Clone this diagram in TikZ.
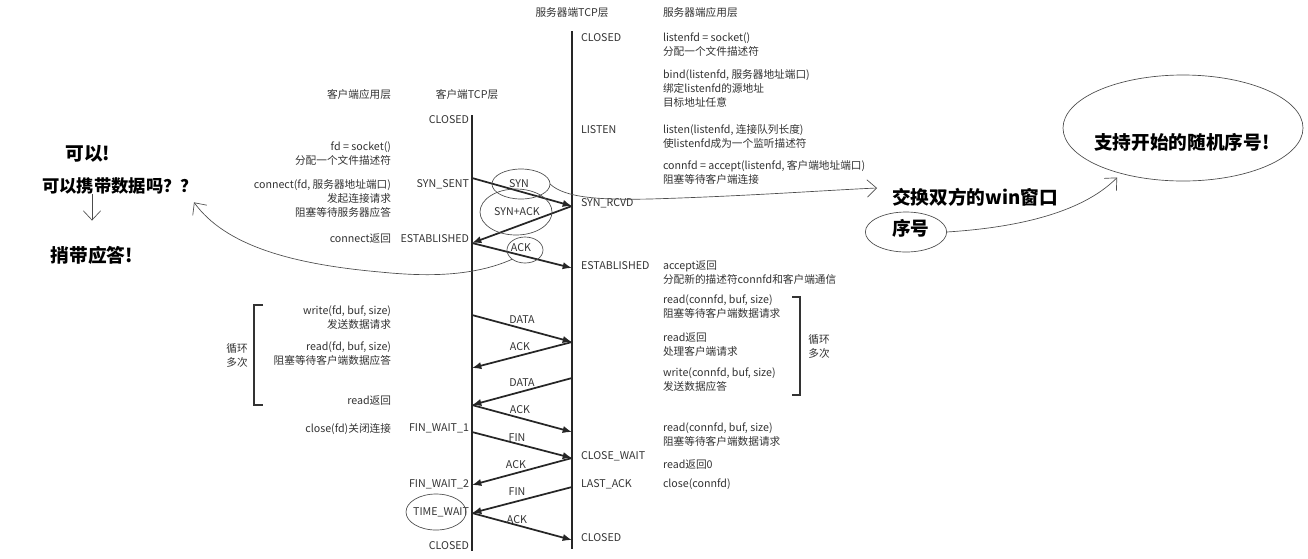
\documentclass[tikz,border=0pt]{standalone}
\usepackage{fontspec}
\setmainfont{Noto Sans CJK SC}
\usetikzlibrary{arrows.meta,shapes.geometric}
\definecolor{ink}{gray}{0.2}
\definecolor{pen}{gray}{0.3}
\begin{document}
\begin{tikzpicture}[x=0.75pt,y=-0.75pt,
  every node/.style={inner sep=0pt, outer sep=0pt, text=ink},
  sm/.style={font=\fontsize{8}{10.5}\selectfont},
  bl/.style={font=\fontsize{14}{17}\selectfont\bfseries, text=black},
  stl/.style={sm, anchor=west},
  str/.style={sm, anchor=east},
  appl/.style={sm, anchor=west, align=left},
  appr/.style={sm, anchor=east, align=right},
  tl/.style={line width=1.5pt, draw=black!85},
  msg/.style={line width=1.3pt, draw=black!85, -{Latex[length=7pt,width=5.5pt]}},
  brk/.style={line width=1pt, draw=black!80},
  hand/.style={line width=0.5pt, draw=pen},
  barb/.style={-{Straight Barb[length=7pt,width=13pt]}},
  ring/.style={draw=pen, line width=0.5pt, ellipse, inner sep=0pt}]
\useasboundingbox (0,0) rectangle (1308,558);
\fill[white] (0,0) rectangle (1308,558);

% headers
\node[sm] (hsT) at (572,12) {服务器端TCP层};
\node[sm,anchor=west] (hsA) at (663,12) {服务器端应用层};
\node[sm,anchor=east] (hcA) at (391,94) {客户端应用层};
\node[sm] (hcT) at (467,94) {客户端TCP层};

% timelines
\coordinate (cTop) at (472,115); \coordinate (cBot) at (472,551);
\coordinate (sTop) at (572,31);  \coordinate (sBot) at (572,549);
\draw[tl] (cTop) -- (cBot);
\draw[tl] (sTop) -- (sBot);

% client states
\node[str] (cs1) at (469,120) {CLOSED};
\node[str] (cs2) at (469,184) {SYN\_SENT};
\node[str] (cs3) at (469,239) {ESTABLISHED};
\node[str] (cs4) at (469,428) {FIN\_WAIT\_1};
\node[str] (cs5) at (469,484) {FIN\_WAIT\_2};
\node[str] (cs6) at (469,512) {TIME\_WAIT};
\node[str] (cs7) at (469,546) {CLOSED};

% server states
\node[stl] (ss1) at (581,38) {CLOSED};
\node[stl] (ss2) at (581,130) {LISTEN};
\node[stl] (ss3) at (581,203) {SYN\_RCVD};
\node[stl] (ss4) at (581,266) {ESTABLISHED};
\node[stl] (ss5) at (581,456) {CLOSE\_WAIT};
\node[stl] (ss6) at (581,484) {LAST\_ACK};
\node[stl] (ss7) at (581,538) {CLOSED};

% server application
\node[appl] (a1) at (663,45) {listenfd = socket()\\分配一个文件描述符};
\node[appl] (a2) at (663,88) {bind(listenfd, 服务器地址端口)\\绑定listenfd的源地址\\目标地址任意};
\node[appl] (a3) at (663,136) {listen(listenfd, 连接队列长度)\\使listenfd成为一个监听描述符};
\node[appl] (a4) at (663,172) {connfd = accept(listenfd, 客户端地址端口)\\阻塞等待客户端连接};
\node[appl] (a5) at (663,273) {accept返回\\分配新的描述符connfd和客户端通信};
\node[appl] (a6) at (663,307) {read(connfd, buf, size)\\阻塞等待客户端数据请求};
\node[appl] (a7) at (663,345) {read返回\\处理客户端请求};
\node[appl] (a8) at (663,380) {write(connfd, buf, size)\\发送数据应答};
\node[appl] (a9) at (663,435) {read(connfd, buf, size)\\阻塞等待客户端数据请求};
\node[appl] (a10) at (663,465) {read返回0};
\node[appl] (a11) at (663,484) {close(connfd)};

% client application
\node[appr] (b1) at (391,154) {fd = socket()\\分配一个文件描述符};
\node[appr] (b2) at (391,198) {connect(fd, 服务器地址端口)\\发起连接请求\\阻塞等待服务器应答};
\node[appr] (b3) at (391,239) {connect返回};
\node[appr] (b4) at (391,318) {write(fd, buf, size)\\发送数据请求};
\node[appr] (b5) at (391,354) {read(fd, buf, size)\\阻塞等待客户端数据应答};
\node[appr] (b6) at (391,401) {read返回};
\node[appr] (b7) at (391,429) {close(fd)关闭连接};

% brackets and loop labels
\draw[brk] (263,305) -- (254,305) -- (254,405) -- (263,405);
\draw[brk] (792,297) -- (800,297) -- (800,395) -- (792,395);
\node[sm,align=center] (lpL) at (237,355) {循环\\多次};
\node[sm,align=center] (lpR) at (819,346) {循环\\多次};

% message points
\coordinate (cSyn) at (472,178);
\coordinate (cEst) at (472,243);
\coordinate (cD1) at (472,315);
\coordinate (cA1) at (472,368);
\coordinate (cD2) at (472,405);
\coordinate (cF1) at (472,432);
\coordinate (cF2) at (472,485);
\coordinate (cTW) at (472,513);
\coordinate (sRc) at (572,206);
\coordinate (sEs) at (572,268);
\coordinate (sD1) at (572,342);
\coordinate (sD2) at (572,378);
\coordinate (sA2) at (572,432);
\coordinate (sCW) at (572,458);
\coordinate (sLA) at (572,487);
\coordinate (sCl) at (572,540);

\draw[msg] (cSyn) -- (sRc);
\draw[msg] (sRc) -- (cEst);
\draw[msg] (cEst) -- (sEs);
\draw[msg] (cD1) -- (sD1);
\draw[msg] (sD1) -- (cA1);
\draw[msg] (sD2) -- (cD2);
\draw[msg] (cD2) -- (sA2);
\draw[msg] (cF1) -- (sCW);
\draw[msg] (sCW) -- (cF2);
\draw[msg] (sLA) -- (cTW);
\draw[msg] (cTW) -- (sCl);

% message labels
\node[sm] (m1) at (519,184) {SYN};
\node[sm] (m2) at (517,212) {SYN+ACK};
\node[sm] (m3) at (521,248) {ACK};
\node[sm] (m4) at (522,320) {DATA};
\node[sm] (m5) at (520,347) {ACK};
\node[sm] (m6) at (522,383) {DATA};
\node[sm] (m7) at (520,410) {ACK};
\node[sm] (m8) at (517,438) {FIN};
\node[sm] (m9) at (516,465) {ACK};
\node[sm] (m10) at (517,492) {FIN};
\node[sm] (m11) at (517,520) {ACK};

% handwritten notes
\node[bl] (q1) at (88,154) {可以!};
\node[bl,font=\fontsize{13}{16}\selectfont\bfseries] (q2) at (120,186) {可以携带数据吗？？};
\node[bl] (q3) at (92,255) {捎带应答!};
\node[bl,anchor=west] (w1) at (892,197) {交换双方的win窗口};
\node[bl,anchor=west] (w2) at (892,228) {序号};
\node[bl] (r1) at (1182,142) {支持开始的随机序号!};

% handwritten rings
\node[ring, minimum width=43.5pt, minimum height=22.5pt] (synR) at (521,184) {};
\node[ring, minimum width=54pt, minimum height=34.5pt] (sakR) at (516,212) {};
\node[ring, minimum width=27pt, minimum height=19.5pt] (ackR) at (525,250) {};
\node[ring, minimum width=45pt, minimum height=27pt] (twR) at (436,512) {};
\node[ring, minimum width=61pt, minimum height=30pt] (xuR) at (906,232) {};
\node[ring, minimum width=180pt, minimum height=79.5pt] (bigR) at (1183,128) {};

% handwritten connectors
\coordinate (h2s) at (q2.south -| q3.north);
\draw[hand,barb] (h2s) -- ([yshift=19pt]q3.north);
\draw[hand,barb] (ackR.south west) .. controls (470,278) and (420,276) .. (380,272)
   .. controls (290,264) and (225,245) .. ([shift={(-4,8)}]q2.south east);
\draw[hand,barb] (synR.east) .. controls (565,198) and (600,200) .. (650,199)
   .. controls (750,196) and (830,190) .. ([shift={(-15,-9)}]w1.west);
\draw[hand,barb] (xuR.east) .. controls (1010,228) and (1080,215) .. ([shift={(19,12)}]bigR.south west);
\end{tikzpicture}
\end{document}
